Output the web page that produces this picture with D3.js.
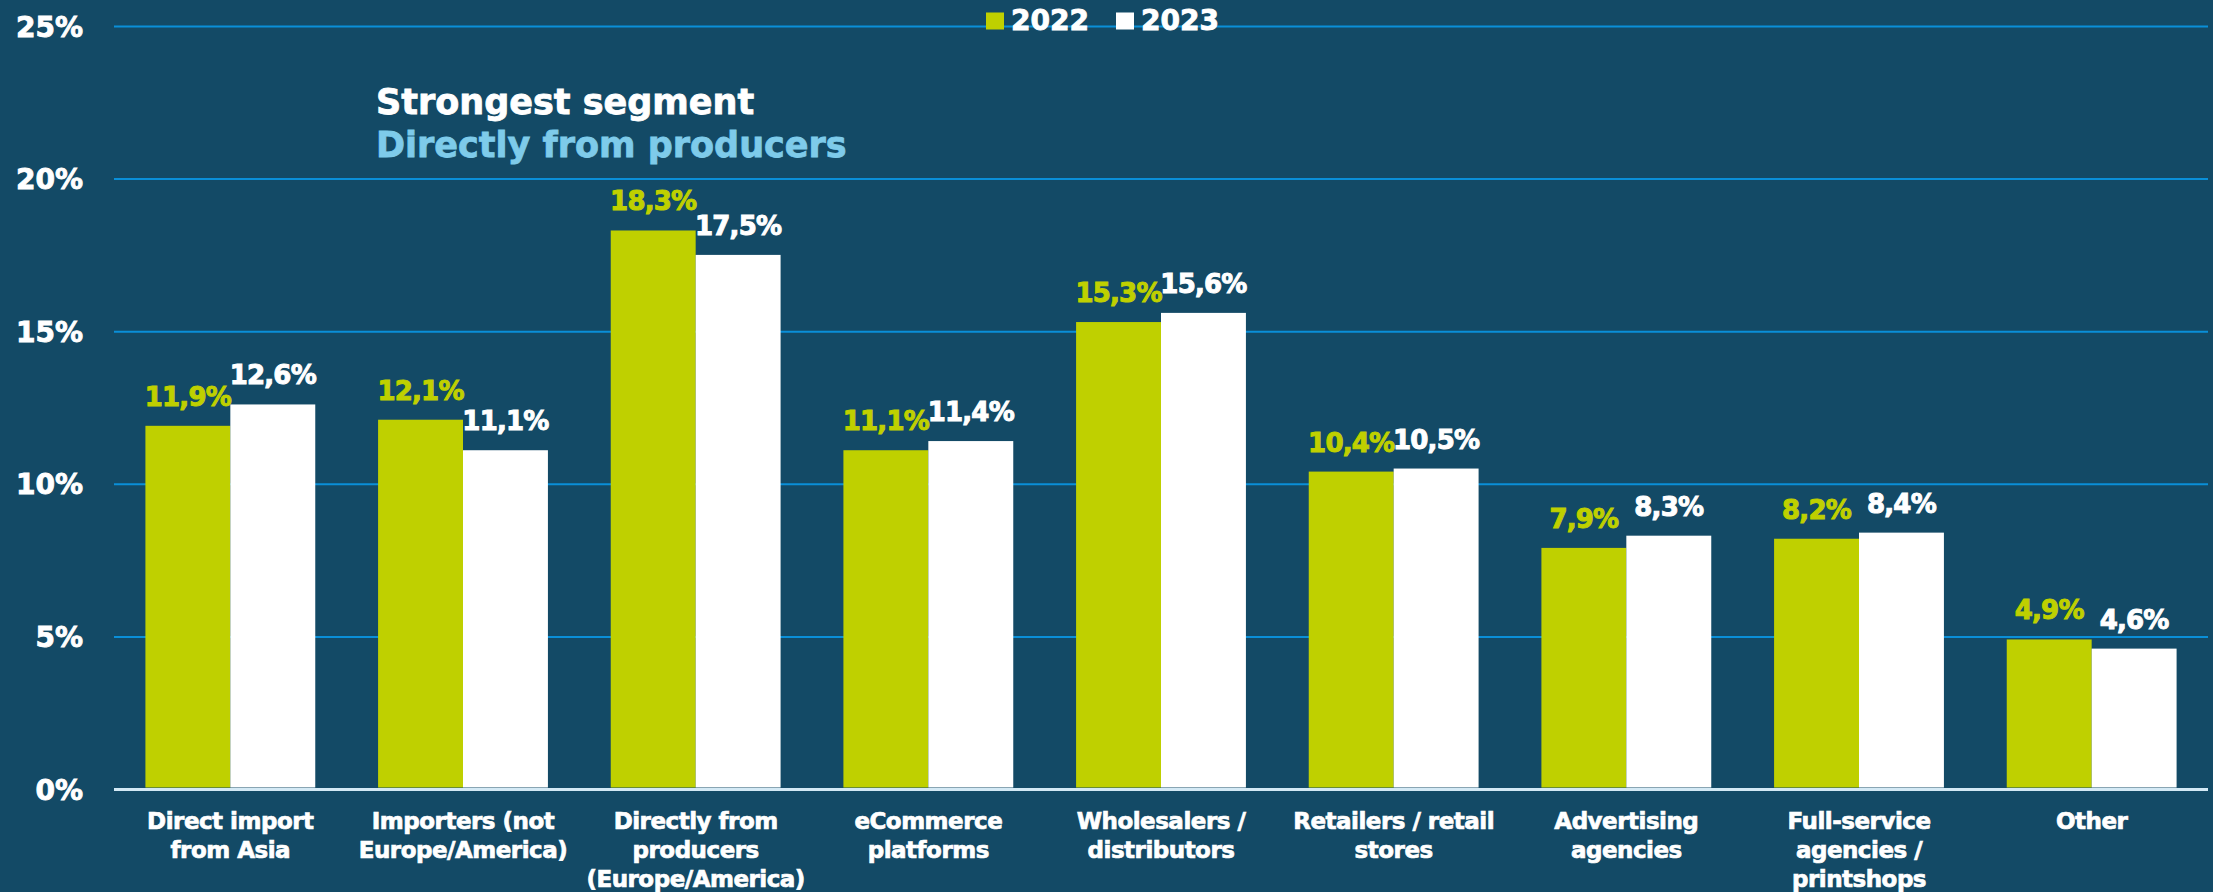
<!DOCTYPE html>
<html>
<head>
<meta charset="utf-8">
<script src="https://cdn.jsdelivr.net/npm/d3@7"></script>
<style>
  html, body { margin: 0; padding: 0; background: #134a66; }
  svg { display: block; }
  text { font-family: "DejaVu Sans", sans-serif; font-weight: bold; }
</style>
</head>
<body>
<svg id="chart" width="2213" height="892"></svg>
<script>
// Purchasing channels, share of respondents per year
const categories = [
  "Direct import from Asia",
  "Importers (not Europe/America)",
  "Directly from producers (Europe/America)",
  "eCommerce platforms",
  "Wholesalers / distributors",
  "Retailers / retail stores",
  "Advertising agencies",
  "Full-service agencies / printshops",
  "Other"
];
const categoryLines = [
  ["Direct import", "from Asia"],
  ["Importers (not", "Europe/America)"],
  ["Directly from", "producers", "(Europe/America)"],
  ["eCommerce", "platforms"],
  ["Wholesalers /", "distributors"],
  ["Retailers / retail", "stores"],
  ["Advertising", "agencies"],
  ["Full-service", "agencies /", "printshops"],
  ["Other"]
];
const years = ["2022", "2023"];
const values2022 = [11.9, 12.1, 18.3, 11.1, 15.3, 10.4, 7.9, 8.2, 4.9];
const values2023 = [12.6, 11.1, 17.5, 11.4, 15.6, 10.5, 8.3, 8.4, 4.6];
const yTicks = [0, 5, 10, 15, 20, 25];
const titleLines = ["Strongest segment", "Directly from producers"];

const colors = { "2022": "#bfd000", "2023": "#ffffff" };
const bg = "#134a66";

const svg = d3.select("#chart");
const W = 2213, H = 892;
const plotLeft = 114, plotRight = 2208, plotTop = 26, plotBottom = 789;

svg.append("rect").attr("width", W).attr("height", H).attr("fill", bg);

const x = d3.scaleBand()
  .domain(categories)
  .range([plotLeft, plotRight])
  .paddingInner(0.27)
  .paddingOuter(0.135);

const xSub = d3.scaleBand()
  .domain(years)
  .range([0, x.bandwidth()])
  .padding(0);

const y = d3.scaleLinear().domain([0, 25]).range([plotBottom, plotTop]);

// heavier strokes on text give the extra-bold look
const heavy = (sel, color, w) => sel.attr("stroke", color).attr("stroke-width", w).attr("paint-order", "stroke");

// gridlines + y tick labels
const yAxis = d3.axisLeft(y)
  .tickValues(yTicks)
  .tickSize(-(plotRight - plotLeft))
  .tickPadding(31)
  .tickFormat(d => d + "%");

const gy = svg.append("g")
  .attr("transform", `translate(${plotLeft},0)`)
  .call(yAxis);
gy.select(".domain").remove();
gy.selectAll(".tick line")
  .attr("stroke", d => d === 0 ? "#d3e9f5" : "#0a8fd8")
  .attr("stroke-width", d => d === 0 ? 3 : 2);
gy.selectAll(".tick text")
  .attr("fill", "#ffffff")
  .style("font-size", "28px")
  .attr("dy", "0.36em")
  .call(heavy, "#ffffff", 0.9);

// data rows
const rows = categories.map((c, i) => ({
  cat: c,
  lines: categoryLines[i],
  vals: [
    { year: "2022", v: values2022[i] },
    { year: "2023", v: values2023[i] }
  ]
}));

const fmt = v => d3.format(".1f")(v).replace(".", ",") + "%";

const groups = svg.append("g").selectAll("g")
  .data(rows)
  .join("g")
  .attr("transform", d => `translate(${x(d.cat)},0)`);

groups.selectAll("rect")
  .data(d => d.vals)
  .join("rect")
  .attr("x", d => xSub(d.year))
  .attr("y", d => y(d.v))
  .attr("width", xSub.bandwidth())
  .attr("height", d => y(0) - y(d.v) - 1.5)
  .attr("fill", d => colors[d.year]);

groups.selectAll("text.val")
  .data(d => d.vals)
  .join("text")
  .attr("class", "val")
  .attr("x", d => xSub(d.year) + xSub.bandwidth() / 2)
  .attr("y", d => y(d.v) - 20)
  .attr("text-anchor", "middle")
  .attr("fill", d => colors[d.year])
  .style("font-size", "26px")
  .style("letter-spacing", "-0.8px")
  .each(function (d) { heavy(d3.select(this), colors[d.year], 1); })
  .text(d => fmt(d.v));

// category labels
const xl = svg.append("g").selectAll("text")
  .data(rows)
  .join("text")
  .attr("x", d => x(d.cat) + x.bandwidth() / 2)
  .attr("y", 829)
  .attr("text-anchor", "middle")
  .attr("fill", "#ffffff")
  .style("font-size", "23px")
  .style("letter-spacing", "-0.5px")
  .call(heavy, "#ffffff", 0.7);
xl.selectAll("tspan")
  .data(d => d.lines)
  .join("tspan")
  .attr("x", function () { return d3.select(this.parentNode).attr("x"); })
  .attr("dy", (d, i) => i === 0 ? 0 : 29)
  .text(d => d);

// legend
const legend = svg.append("g");
const legendX = [986, 1116];
years.forEach((yr, i) => {
  legend.append("rect")
    .attr("x", legendX[i]).attr("y", 12.5)
    .attr("width", 18).attr("height", 17)
    .attr("fill", colors[yr]);
  legend.append("text")
    .attr("x", legendX[i] + 25).attr("y", 29.5)
    .attr("fill", "#ffffff")
    .style("font-size", "28px")
    .call(heavy, "#ffffff", 0.9)
    .text(yr);
});

// headline
svg.append("text")
  .attr("x", 376).attr("y", 114)
  .attr("fill", "#ffffff")
  .style("font-size", "35px")
  .call(heavy, "#ffffff", 0.8)
  .text(titleLines[0]);
svg.append("text")
  .attr("x", 376).attr("y", 157)
  .attr("fill", "#7ecbea")
  .style("font-size", "35px")
  .call(heavy, "#7ecbea", 0.8)
  .text(titleLines[1]);
</script>
</body>
</html>
